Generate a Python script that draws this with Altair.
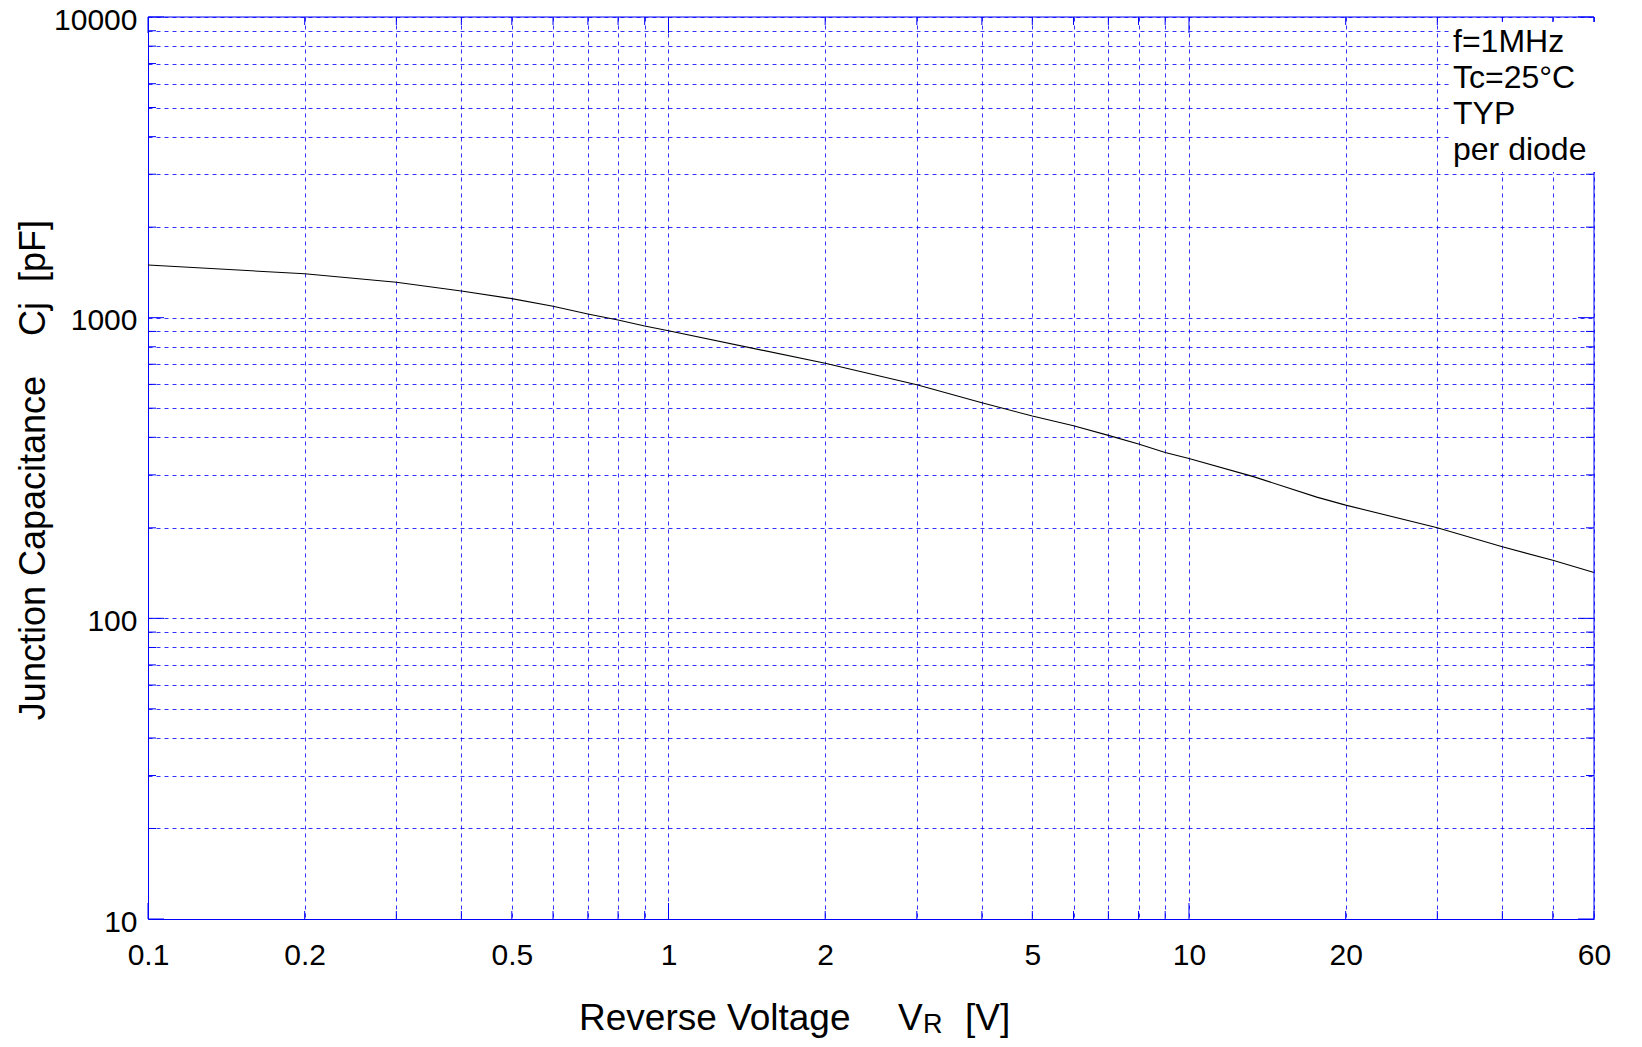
import altair as alt
import pandas as pd

# ---- data ----
voltage = [0.1, 0.2, 0.3, 0.4, 0.5, 0.6, 0.7, 0.8, 0.9, 1, 2, 3, 4, 5, 6, 7, 8, 9,
           10, 13.3, 17.6, 20, 30, 40, 50, 60]
capacitance = [1496, 1400, 1312, 1227, 1157, 1092, 1028, 982, 938, 905, 705, 598, 521,
               471, 437, 406, 380, 356, 340, 296, 253, 238, 200, 173, 156, 142]

x_grid = [0.1, 0.2, 0.3, 0.4, 0.5, 0.6, 0.7, 0.8, 0.9, 1, 2, 3, 4, 5, 6, 7, 8, 9,
          10, 20, 30, 40, 50, 60]
x_labels = [0.1, 0.2, 0.5, 1, 2, 5, 10, 20, 60]
x_major = [0.1, 1, 10]

y_grid = [10, 20, 30, 40, 50, 60, 70, 80, 90,
          100, 200, 300, 400, 500, 600, 700, 800, 900,
          1000, 2000, 3000, 4000, 5000, 6000, 7000, 8000, 9000, 10000]
y_labels = [10, 100, 1000, 10000]
y_major = [10, 100, 1000, 10000]

notes = ["f=1MHz", "Tc=25°C", "TYP", "per diode"]
x_title = ["Reverse Voltage", "V", "R", "[V]"]
y_title = "Junction Capacitance\u00a0\u00a0\u00a0\u00a0Cj\u00a0\u00a0[pF]"

# ---- styling ----
W, H = 1446, 902
FONT = "Liberation Sans"
BLUE = "#0000ff"

xscale = alt.Scale(type="log", domain=[0.1, 60], nice=False)
yscale = alt.Scale(type="log", domain=[10, 10000], nice=False)


def label_expr(vals):
    arr = ",".join(repr(v) for v in vals)
    return f"indexof([{arr}], datum.value) >= 0 ? format(datum.value, '~g') : ''"


common_axis = dict(
    title="", grid=True, gridColor=BLUE, gridDash=[4, 4], gridOpacity=0.8,
    gridWidth=1, ticks=False, tickSize=0, domain=True, domainColor=BLUE,
    domainWidth=1, labelFont=FONT, labelFontSize=30, labelColor="black",
    labelFlush=False, labelOverlap=False,
)
x_axis = alt.Axis(values=x_grid, labelExpr=label_expr(x_labels),
                  labelPadding=21, **common_axis)
y_axis = alt.Axis(values=y_grid, labelExpr=label_expr(y_labels),
                  labelPadding=11, labelOffset=3, **common_axis)

df = pd.DataFrame({"V": voltage, "C": capacitance})

line = alt.Chart(df).mark_line(color="black", strokeWidth=1.1).encode(
    x=alt.X("V:Q", scale=xscale, axis=x_axis),
    y=alt.Y("C:Q", scale=yscale, axis=y_axis),
)

xt_minor = pd.DataFrame({"V": [v for v in x_grid if v not in x_major]})
xt_major = pd.DataFrame({"V": x_major})
yt_minor = pd.DataFrame({"C": [v for v in y_grid if v not in y_major]})
yt_major = pd.DataFrame({"C": y_major})
one = pd.DataFrame({"k": [0]})

layers = [line]
for data, ln in [(xt_minor, 8), (xt_major, 16)]:
    for y0, y1 in [(H, H - ln), (0, ln)]:
        layers.append(alt.Chart(data).mark_rule(color=BLUE, strokeWidth=1).encode(
            x=alt.X("V:Q", scale=xscale, axis=x_axis),
            y=alt.value(y0), y2=alt.value(y1)))
for data, ln in [(yt_minor, 8), (yt_major, 16)]:
    for x0, x1 in [(0, ln), (W, W - ln)]:
        layers.append(alt.Chart(data).mark_rule(color=BLUE, strokeWidth=1).encode(
            y=alt.Y("C:Q", scale=yscale, axis=y_axis),
            x=alt.value(x0), x2=alt.value(x1)))

# top and right border
layers.append(alt.Chart(one).mark_rule(color=BLUE, strokeWidth=1).encode(
    x=alt.value(0), x2=alt.value(W), y=alt.value(0)))
layers.append(alt.Chart(one).mark_rule(color=BLUE, strokeWidth=1).encode(
    x=alt.value(W), y=alt.value(0), y2=alt.value(H)))

# white box behind the notes
layers.append(alt.Chart(one).mark_rect(color="white").encode(
    x=alt.value(1302), x2=alt.value(W + 2), y=alt.value(5), y2=alt.value(155)))

layers.append(alt.Chart(one).mark_text(
    text=notes, align="left", baseline="alphabetic", font=FONT, fontSize=32,
    lineHeight=36, color="black").encode(x=alt.value(1305), y=alt.value(35)))

# y title
layers.append(alt.Chart(one).mark_text(
    text=y_title, angle=270, align="center", baseline="alphabetic", font=FONT,
    fontSize=36, color="black").encode(x=alt.value(-103), y=alt.value(453)))

# x title with subscript
for txt, xx, yy, fs in [(x_title[0], 431, 1013, 37), (x_title[1], 750, 1013, 37),
                        (x_title[2], 775, 1016, 27), (x_title[3], 817, 1013, 37)]:
    layers.append(alt.Chart(one).mark_text(
        text=txt, align="left", baseline="alphabetic", font=FONT, fontSize=fs,
        color="black").encode(x=alt.value(xx), y=alt.value(yy)))

chart = alt.layer(*layers).properties(
    width=W, height=H,
    autosize=alt.AutoSizeParams(type="none"),
    padding={"left": 140, "top": 9, "right": 36, "bottom": 120},
).configure_view(stroke="transparent")

chart.save("out.html", embed_options={"renderer": "svg", "actions": False})
